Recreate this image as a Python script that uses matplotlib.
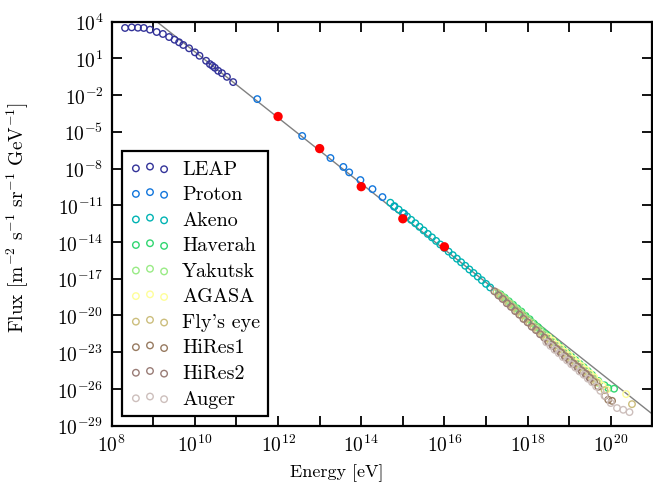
import numpy as np
import matplotlib
matplotlib.use("Agg")
import matplotlib.pyplot as plt
from matplotlib.ticker import FuncFormatter, NullLocator

# ---- measured spectra: log10(E / eV) and log10(flux / m^-2 s^-1 sr^-1 GeV^-1) ----
leap_logE = [8.32, 8.48, 8.63, 8.77, 8.92, 9.08, 9.23, 9.38, 9.51, 9.62, 9.72,
             9.86, 10.00, 10.11, 10.27, 10.36, 10.42, 10.48, 10.56, 10.65, 10.77, 10.92]
leap_logF = [3.48, 3.53, 3.50, 3.48, 3.34, 3.15, 2.99, 2.74, 2.52, 2.31, 2.09,
             1.82, 1.49, 1.21, 0.80, 0.53, 0.39, 0.23, -0.02, -0.21, -0.51, -0.94]

proton_logE = [11.50, 12.58, 13.26, 13.57, 13.71, 13.98, 14.27, 14.51, 14.79, 15.03]
proton_logF = [-2.33, -5.34, -7.14, -7.87, -8.31, -8.94, -9.68, -10.33, -11.11, -11.68]

akeno_logE = [14.7, 14.8, 14.9, 15.0, 15.1, 15.2, 15.3, 15.4, 15.5, 15.6, 15.7, 15.8,
              15.9, 16.0, 16.1, 16.2, 16.3, 16.4, 16.5, 16.6, 16.7, 16.8, 16.9, 17.0, 17.1]
akeno_logF = [-10.79, -11.07, -11.35, -11.63, -11.91, -12.19, -12.47, -12.76, -13.05,
              -13.34, -13.62, -13.91, -14.20, -14.49, -14.78, -15.07, -15.36, -15.65,
              -15.94, -16.24, -16.53, -16.82, -17.12, -17.42, -17.71]

haverah_logE = [17.35, 17.45, 17.55, 17.65, 17.75, 17.85, 17.95, 18.05, 18.15, 18.25,
                18.35, 18.45, 18.55, 18.65, 18.75, 18.85, 18.95, 19.05, 19.15, 19.25,
                19.35, 19.45, 19.55, 19.70, 19.85, 19.94, 20.08]
haverah_logF = [-18.28, -18.55, -18.84, -19.12, -19.42, -19.68, -20.03, -20.31, -20.66,
                -20.95, -21.28, -21.55, -21.88, -22.16, -22.47, -22.78, -23.05, -23.36,
                -23.64, -23.95, -24.22, -24.55, -24.85, -25.35, -25.70, -25.93, -25.98]

yakutsk_logE = [17.3, 17.4, 17.5, 17.6, 17.7, 17.8, 17.9, 18.0, 18.1, 18.2, 18.3, 18.4,
                18.5, 18.6, 18.7, 18.8, 18.9, 19.0, 19.1, 19.2, 19.3, 19.4, 19.5, 19.6, 19.7]
yakutsk_logF = [-18.20, -18.45, -18.75, -19.05, -19.38, -19.66, -19.95, -20.28, -20.58,
                -20.92, -21.20, -21.53, -21.80, -22.13, -22.40, -22.73, -23.00, -23.31,
                -23.58, -23.90, -24.17, -24.50, -24.78, -25.12, -25.50]

agasa_logE = [18.5, 18.6, 18.7, 18.8, 18.9, 19.0, 19.1, 19.2, 19.3, 19.4, 19.5, 19.6,
              19.7, 19.8, 19.9, 20.37]
agasa_logF = [-21.78, -22.05, -22.38, -22.66, -22.97, -23.24, -23.56, -23.83, -24.14,
              -24.42, -24.74, -25.04, -25.42, -25.74, -26.05, -26.42]

flyseye_logE = [17.25, 17.35, 17.45, 17.55, 17.65, 17.75, 17.85, 17.95, 18.05, 18.15,
                18.25, 18.35, 18.45, 18.55, 18.65, 18.75, 18.85, 18.95, 19.05, 19.15,
                19.25, 19.35, 19.45, 19.55, 19.65, 19.85, 20.51]
flyseye_logF = [-18.10, -18.42, -18.70, -19.05, -19.35, -19.69, -19.98, -20.33, -20.62,
                -20.96, -21.25, -21.58, -21.86, -22.18, -22.46, -22.78, -23.06, -23.37,
                -23.64, -23.96, -24.22, -24.55, -24.82, -25.15, -25.45, -26.10, -27.24]

hires1_logE = [18.5, 18.6, 18.7, 18.8, 18.9, 19.0, 19.1, 19.2, 19.3, 19.4, 19.5, 19.6,
               19.7, 19.86, 19.94, 20.03]
hires1_logF = [-22.17, -22.46, -22.78, -23.06, -23.37, -23.64, -23.96, -24.23, -24.54,
               -24.82, -25.14, -25.44, -25.81, -26.56, -26.88, -26.97]

hires2_logE = [17.2, 17.3, 17.4, 17.5, 17.6, 17.7, 17.8, 17.9, 18.0, 18.1, 18.2, 18.3,
               18.4, 18.5, 18.6, 18.7, 18.8, 18.9, 19.0, 19.1, 19.2, 19.3, 19.4, 19.5]
hires2_logF = [-18.02, -18.36, -18.65, -19.00, -19.29, -19.64, -19.93, -20.28, -20.56,
               -20.91, -21.19, -21.53, -21.81, -22.14, -22.41, -22.74, -23.01, -23.33,
               -23.59, -23.92, -24.18, -24.50, -24.76, -25.10]

auger_logE = [18.45, 18.55, 18.65, 18.75, 18.85, 18.95, 19.05, 19.15, 19.25, 19.35,
              19.45, 19.55, 19.65, 19.75, 19.85, 20.00, 20.15, 20.30, 20.45]
auger_logF = [-22.19, -22.48, -22.80, -23.08, -23.40, -23.67, -23.98, -24.26, -24.57,
              -24.84, -25.16, -25.45, -25.80, -26.15, -26.55, -27.15, -27.56, -27.70, -27.89]

# reference flux values at fixed decades of energy
marker_logE = [12.0, 13.0, 14.0, 15.0, 16.0]
marker_logF = [-3.75, -6.37, -9.48, -12.10, -14.39]

# power-law guide line end points
line_E = [1e9, 1e21]
line_F = [1.66e4, 8.9e-29]

series_names = ["LEAP", "Proton", "Akeno", "Haverah", "Yakutsk", "AGASA",
                "Fly's eye", "HiRes1", "HiRes2", "Auger"]
series_logE = [leap_logE, proton_logE, akeno_logE, haverah_logE, yakutsk_logE,
               agasa_logE, flyseye_logE, hires1_logE, hires2_logE, auger_logE]
series_logF = [leap_logF, proton_logF, akeno_logF, haverah_logF, yakutsk_logF,
               agasa_logF, flyseye_logF, hires1_logF, hires2_logF, auger_logF]

x_tick_exp = list(range(8, 21))
y_tick_exp = list(range(-29, 5, 3))

# ---- style ----
plt.rcParams["font.family"] = "serif"
plt.rcParams["font.serif"] = ["cmr10"]
plt.rcParams["mathtext.fontset"] = "cm"
plt.rcParams["axes.unicode_minus"] = False

fig = plt.figure(figsize=(6.53, 4.85), dpi=100)
ax = fig.add_axes([0.1711, 0.1202, 0.8279, 0.8332])
ax.set_xscale("log")
ax.set_yscale("log")

ax.plot(line_E, line_F, color="0.5", lw=1.0, zorder=1)

colors = plt.cm.terrain(np.arange(10) / 10.0)
for name, le, lf, c in zip(series_names, series_logE, series_logF, colors):
    ax.scatter(np.power(10.0, le), np.power(10.0, lf), s=22, facecolors="none",
               edgecolors=[c], linewidths=1.0, label=name, zorder=3)

ax.scatter(np.power(10.0, marker_logE), np.power(10.0, marker_logF), s=45,
           c="red", edgecolors="none", zorder=4)

ax.set_xlim(1e8, 1e21)
ax.set_ylim(1e-29, 1e4)
ax.set_xticks([10.0 ** k for k in x_tick_exp])
ax.set_yticks([10.0 ** k for k in y_tick_exp])
ax.xaxis.set_minor_locator(NullLocator())
ax.yaxis.set_minor_locator(NullLocator())


def x_label(v, pos):
    k = int(round(np.log10(v)))
    return r"$10^{%d}$" % k if k % 2 == 0 else ""


ax.xaxis.set_major_formatter(FuncFormatter(x_label))
ax.yaxis.set_major_formatter(
    FuncFormatter(lambda v, p: r"$10^{%d}$" % int(round(np.log10(v)))))
ax.tick_params(which="major", direction="in", top=True, right=True,
               length=7, width=1.3, labelsize=14, pad=6)
for sp in ax.spines.values():
    sp.set_linewidth(1.6)

ax.set_xlabel("Energy [eV]", fontsize=13)
ax.set_ylabel(r"Flux [m$^{-2}$ s$^{-1}$ sr$^{-1}$ GeV$^{-1}$]", fontsize=14)
ax.xaxis.set_label_coords(0.417, -0.094)
ax.yaxis.set_label_coords(-0.149, 0.518)

leg = ax.legend(loc="lower left", scatterpoints=3, fontsize=14.5, fancybox=False,
                framealpha=1.0, edgecolor="black", labelspacing=0.37,
                handletextpad=0.6, borderaxespad=0.5)
leg.get_frame().set_linewidth(1.6)

fig.savefig("out.png", dpi=100)
